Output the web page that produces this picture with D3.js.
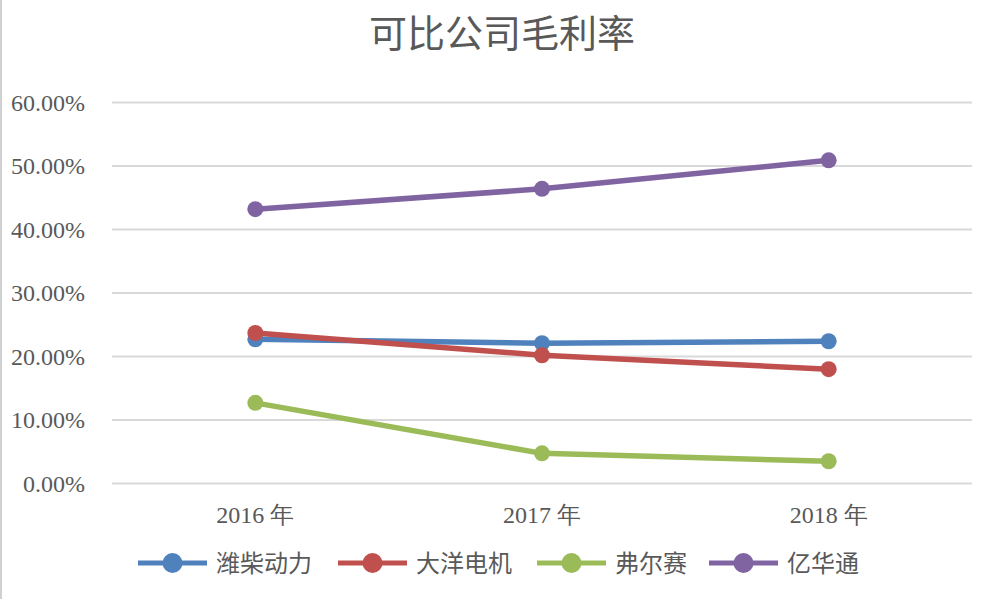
<!DOCTYPE html>
<html>
<head>
<meta charset="utf-8">
<script src="https://cdn.jsdelivr.net/npm/d3@7"></script>
<style>
  body { margin: 0; background: #fff; }
  svg { display: block; }
</style>
</head>
<body>
<div id="chart"></div>
<script>
// data
var years = ["2016 年", "2017 年", "2018 年"];
var companies = ["潍柴动力", "大洋电机", "弗尔赛", "亿华通"];
var weichai = [0.227, 0.221, 0.224];
var dayang = [0.237, 0.202, 0.180];
var fuersai = [0.127, 0.0475, 0.035];
var yihuatong = [0.432, 0.464, 0.509];
var colors = ["#4f81bd", "#c0504d", "#9bbb59", "#8064a2"];
var yTicks = [0, 0.1, 0.2, 0.3, 0.4, 0.5, 0.6];

var W = 999, H = 599;
var margin = {top: 102.5, right: 27, bottom: 115.5, left: 112};
var width = W - margin.left - margin.right,
    height = H - margin.top - margin.bottom;

var serif = "'Times New Roman', 'Liberation Serif', 'DejaVu Serif', serif";
var cjk = "'Noto Sans CJK SC', sans-serif";

var series = [weichai, dayang, fuersai, yihuatong].map(function(v, i) {
    return {name: companies[i], values: v, color: colors[i]};
});

var svg = d3.select("#chart").append("svg")
    .attr("width", W).attr("height", H);

// faint left border like the source
svg.append("line").attr("x1", 1).attr("x2", 1).attr("y1", 0).attr("y2", H)
    .attr("stroke", "#d0d0d0").attr("stroke-width", 2);

var g = svg.append("g")
    .attr("transform", "translate(" + margin.left + "," + margin.top + ")");

var x = d3.scaleBand().domain(years).range([0, width]);
var y = d3.scaleLinear().domain([0, 0.6]).range([height, 0]);

// gridlines
g.append("g").selectAll("line").data(yTicks).enter().append("line")
    .attr("x1", 0).attr("x2", width)
    .attr("y1", function(d) { return y(d); })
    .attr("y2", function(d) { return y(d); })
    .attr("stroke", "#d9d9d9").attr("stroke-width", 2);

// y axis
var yAxis = g.append("g")
    .attr("transform", "translate(-24,0)")
    .attr("font-family", serif)
    .call(d3.axisLeft(y).tickValues(yTicks).tickSize(0)
        .tickFormat(function(d) { return (d * 100).toFixed(2) + "%"; }));
yAxis.select(".domain").remove();
yAxis.selectAll("text")
    .attr("fill", "#595959")
    .style("font-family", serif)
    .style("font-size", "24px");

// x axis
var xAxis = g.append("g")
    .attr("transform", "translate(0," + height + ")")
    .attr("font-family", serif)
    .call(d3.axisBottom(x).tickSize(0).tickPadding(22));
xAxis.select(".domain").remove();
xAxis.selectAll("text")
    .attr("fill", "#595959")
    .style("font-family", serif)
    .style("font-size", "24px");

var line = d3.line()
    .x(function(d, i) { return x(years[i]) + x.bandwidth() / 2; })
    .y(function(d) { return y(d); });

series.forEach(function(s) {
    g.append("path")
        .datum(s.values)
        .attr("fill", "none")
        .attr("stroke", s.color)
        .attr("stroke-width", 5.5)
        .attr("stroke-linejoin", "round")
        .attr("d", line);
    g.selectAll(null).data(s.values).enter().append("circle")
        .attr("cx", function(d, i) { return x(years[i]) + x.bandwidth() / 2; })
        .attr("cy", function(d) { return y(d); })
        .attr("r", 8)
        .attr("fill", s.color);
});

// title
svg.append("text")
    .attr("x", 502).attr("y", 47)
    .attr("text-anchor", "middle")
    .attr("fill", "#595959")
    .style("font-family", cjk)
    .style("font-size", "38px")
    .text("可比公司毛利率");

// legend
var legX = [138, 338, 537, 709];
var legend = svg.append("g").attr("transform", "translate(0,563)");
series.forEach(function(s, i) {
    var lg = legend.append("g").attr("transform", "translate(" + legX[i] + ",0)");
    lg.append("line").attr("x1", 0).attr("x2", 69).attr("y1", 0).attr("y2", 0)
        .attr("stroke", s.color).attr("stroke-width", 5);
    lg.append("circle").attr("cx", 34.5).attr("cy", 0).attr("r", 10).attr("fill", s.color);
    lg.append("text").attr("x", 78).attr("y", 8.5)
        .attr("fill", "#595959")
        .style("font-family", cjk)
        .style("font-size", "24px")
        .text(s.name);
});
</script>
</body>
</html>
